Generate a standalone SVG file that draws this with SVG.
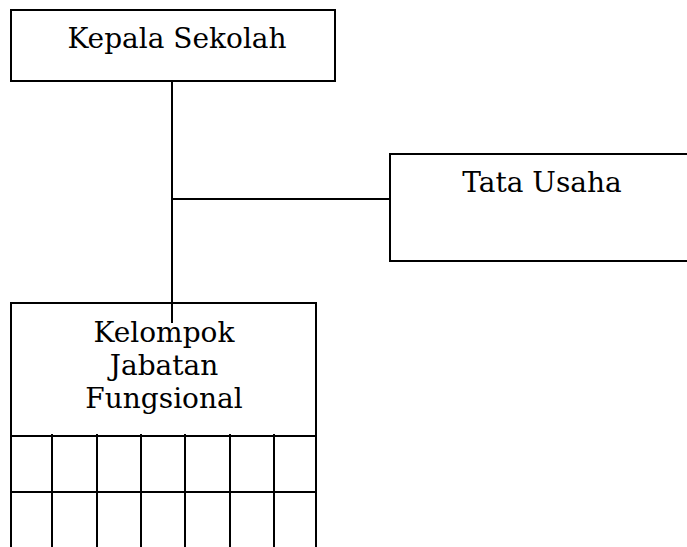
<svg xmlns="http://www.w3.org/2000/svg" width="687" height="547" viewBox="0 0 687 547">
<style>
.box{fill:#fff;stroke:#000;stroke-width:2}
.ln{stroke:#000;stroke-width:2;fill:none}
text{font-family:"DejaVu Serif","Liberation Serif",serif;font-size:28px;fill:#000;text-anchor:middle}
</style>
<rect width="687" height="547" fill="#fff"/>
<g id="kepala">
<rect class="box" x="11" y="10" width="324" height="71"/>
<text x="177" y="48">Kepala Sekolah</text>
</g>
<g id="tata-usaha">
<rect class="box" x="390" y="154" width="310" height="107"/>
<text x="542" y="192">Tata Usaha</text>
</g>
<g id="kelompok">
<path class="ln" d="M11,547 V303 H316 V547 M11,436 H316 M11,492 H316 M52,434 V547 M97,434 V547 M141,434 V547 M185,434 V547 M230,434 V547 M274,434 V547"/>
<text x="164" y="342">Kelompok</text>
<text x="164" y="375">Jabatan</text>
<text x="164" y="408">Fungsional</text>
</g>
<g id="connectors">
<path class="ln" d="M172,81 V323 M172,199 H390"/>
</g>
</svg>
